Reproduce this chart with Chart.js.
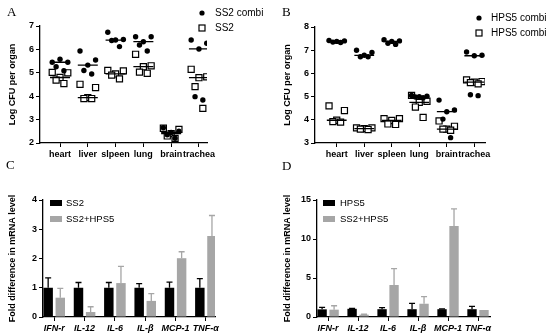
<!DOCTYPE html>
<html>
<head>
<meta charset="utf-8">
<script src="https://cdn.jsdelivr.net/npm/chart.js@4.4.1/dist/chart.umd.min.js"></script>
<style>
  body { margin: 0; background: #fff; width: 550px; height: 336px; position: relative; overflow: hidden; }
  canvas { position: absolute; }
  .tag { position: absolute; font: 13px 'Liberation Serif', 'Times New Roman', serif; color: #000; }
</style>
</head>
<body>
<canvas id="pa" width="275" height="168" style="left:0;top:0"></canvas>
<canvas id="pb" width="275" height="168" style="left:275px;top:0"></canvas>
<canvas id="pc" width="275" height="168" style="left:0;top:168px"></canvas>
<canvas id="pd" width="275" height="168" style="left:275px;top:168px"></canvas>
<div class="tag" style="left:7px;top:4px">A</div>
<div class="tag" style="left:282px;top:4px">B</div>
<div class="tag" style="left:6px;top:157px">C</div>
<div class="tag" style="left:282px;top:158px">D</div>
<script>
// ---- data ----
const organs = ['heart', 'liver', 'slpeen', 'lung', 'brain', 'trachea'];
const organsB = ['heart', 'liver', 'spleen', 'lung', 'brain', 'trachea'];
const genes = ['IFN-r', 'IL-12', 'IL-6', 'IL-β', 'MCP-1', 'TNF-α'];

// panel A, log CFU per organ, one row per organ
const ss2Combi = [
  [5.45, 5.45, 5.58, 5.26, 5.09],
  [5.93, 5.55, 5.33, 5.10, 4.95],
  [6.73, 6.42, 6.40, 6.38, 6.12],
  [6.54, 6.54, 6.33, 6.19, 5.93],
  [2.65, 2.50, 2.45, 2.35, 2.20],
  [6.40, 6.26, 6.02, 3.98, 3.84]
];
const ss2 = [
  [5.02, 5.00, 4.80, 4.69, 4.54],
  [4.51, 4.37, 3.94, 3.90, 3.90],
  [5.10, 5.08, 4.95, 4.90, 4.74],
  [5.79, 5.30, 5.26, 5.03, 4.98],
  [2.63, 2.58, 2.40, 2.30, 2.20],
  [5.15, 4.83, 4.79, 4.41, 3.48]
];

// panel B
const hps5Combi = [
  [7.42, 7.40, 7.38, 7.35, 7.33],
  [7.00, 6.90, 6.78, 6.72, 6.72],
  [7.45, 7.40, 7.38, 7.30, 7.25],
  [5.05, 5.02, 5.00, 4.98, 4.95],
  [4.85, 4.42, 4.35, 4.03, 3.23],
  [6.92, 6.78, 6.76, 5.08, 5.04]
];
const hps5 = [
  [4.60, 4.40, 3.98, 3.92, 3.90],
  [3.65, 3.65, 3.62, 3.60, 3.58],
  [4.05, 4.05, 3.97, 3.82, 3.80],
  [5.05, 4.80, 4.75, 4.55, 4.10],
  [3.95, 3.72, 3.60, 3.60, 3.55],
  [5.72, 5.65, 5.62, 5.60, 5.55]
];

// panel C, fold difference (mean and sd)
const cSS2 = [1, 1, 1, 1, 1, 1];
const cSS2Sd = [0.34, 0.18, 0.18, 0.14, 0.19, 0.31];
const cMix = [0.66, 0.17, 1.16, 0.55, 2.01, 2.77];
const cMixSd = [0.32, 0.18, 0.57, 0.25, 0.22, 0.70];

// panel D
const dHPS5 = [0.98, 1.05, 1.0, 1.0, 1.0, 1.0];
const dHPS5Sd = [0.26, 0.05, 0.2, 0.75, 0.05, 0.37];
const dMix = [0.94, 0.3, 4.1, 1.7, 11.67, 0.9];
const dMixSd = [0.5, 0.05, 2.1, 0.9, 2.18, 0];

// ---- helpers ----
const FONT = "'Liberation Sans', Arial, sans-serif";
const GREY = '#a6a6a6';
Chart.defaults.font.family = FONT;
Chart.defaults.color = '#000';

const JITTER = [-0.28, 0.28, 0, -0.14, 0.14];

function toPoints(groups) {
  const pts = [];
  groups.forEach((vals, i) => vals.forEach((v, j) => pts.push({ x: i + JITTER[j % JITTER.length], y: v })));
  return pts;
}
function median(vals) {
  const s = [...vals].sort((a, b) => a - b);
  const m = s.length >> 1;
  return s.length % 2 ? s[m] : (s[m - 1] + s[m]) / 2;
}
function medianSegments(groups) {
  const pts = [];
  groups.forEach((vals, i) => {
    const m = median(vals);
    pts.push({ x: i - 0.36, y: m }, { x: i + 0.36, y: m }, { x: i, y: null });
  });
  return pts;
}

function axisX(cats, min, max, height, italic) {
  return {
    type: 'linear', min, max, offset: false,
    afterBuildTicks: s => { s.ticks = cats.map((c, i) => ({ value: i })); },
    ticks: {
      callback: v => cats[v], color: '#000', padding: 2, maxRotation: 0, autoSkip: false,
      font: { family: FONT, size: 9, weight: 'bold', style: italic ? 'italic' : 'normal' }
    },
    grid: { drawOnChartArea: false, drawTicks: true, tickLength: 4, color: '#000', lineWidth: 1, offset: false },
    border: { color: '#000', width: 1.3 },
    afterFit: s => { s.height = height; }
  };
}
function axisY(min, max, step, title, width) {
  return {
    min, max,
    ticks: { stepSize: step, color: '#000', padding: 2, font: { family: FONT, size: 9, weight: 'bold' } },
    grid: { drawOnChartArea: false, drawTicks: true, tickLength: 4, color: '#000', lineWidth: 1 },
    border: { color: '#000', width: 1.3 },
    title: { display: true, text: title, color: '#000', font: { family: FONT, size: 9, weight: 'bold' }, padding: { top: 3, bottom: 0 } },
    afterFit: s => { s.width = width; }
  };
}

// small legend drawn at fixed spots
const miniLegend = {
  id: 'miniLegend',
  afterDraw(chart, args, opts) {
    const ctx = chart.ctx;
    (opts.items || []).forEach(it => {
      const ds = chart.data.datasets[it.ds];
      ctx.save();
      if (it.kind === 'dot') {
        ctx.fillStyle = '#000';
        ctx.beginPath(); ctx.arc(it.x, it.y, 2.6, 0, Math.PI * 2); ctx.fill();
      } else if (it.kind === 'square') {
        ctx.strokeStyle = '#000'; ctx.lineWidth = 1.2;
        ctx.strokeRect(it.x - 3, it.y - 3, 6, 6);
      } else {
        ctx.fillStyle = ds.backgroundColor;
        ctx.fillRect(it.x, it.y - 3, 12, 6);
      }
      ctx.fillStyle = '#000';
      ctx.font = (opts.size || 10) + 'px ' + FONT;
      ctx.textBaseline = 'middle';
      ctx.fillText(ds.label, it.tx, it.y);
      ctx.restore();
    });
  }
};

const errorBars = {
  id: 'errorBars',
  afterDatasetsDraw(chart) {
    const ctx = chart.ctx, y = chart.scales.y;
    chart.data.datasets.forEach((ds, di) => {
      if (!ds.sd) return;
      chart.getDatasetMeta(di).data.forEach((bar, i) => {
        const sd = ds.sd[i];
        if (!sd) return;
        const top = y.getPixelForValue(ds.data[i].y + sd);
        ctx.save();
        ctx.strokeStyle = ds.backgroundColor;
        ctx.lineWidth = 1.3;
        ctx.beginPath();
        ctx.moveTo(bar.x, bar.y); ctx.lineTo(bar.x, top);
        ctx.moveTo(bar.x - 3, top); ctx.lineTo(bar.x + 3, top);
        ctx.stroke();
        ctx.restore();
      });
    });
  }
};

function scatterPanel(id, cats, dots, squares, labels, x, y, pad, legend) {
  new Chart(document.getElementById(id), {
    type: 'scatter',
    data: {
      datasets: [
        { type: 'line', label: 'm1', data: medianSegments(dots), borderColor: '#000', borderWidth: 1.3, pointRadius: 0, spanGaps: false, order: 0 },
        { type: 'line', label: 'm2', data: medianSegments(squares), borderColor: '#000', borderWidth: 1.3, pointRadius: 0, spanGaps: false, order: 0 },
        { label: labels[0], data: toPoints(dots), pointStyle: 'circle', pointRadius: 2.7, backgroundColor: '#000', borderColor: '#000', borderWidth: 0, order: 1 },
        { label: labels[1], data: toPoints(squares), pointStyle: 'rect', pointRadius: 4.3, backgroundColor: '#fff', borderColor: '#000', borderWidth: 1.2, order: 2 }
      ]
    },
    options: {
      responsive: false, animation: false, devicePixelRatio: 1,
      layout: { padding: pad },
      scales: { x, y },
      plugins: {
        legend: { display: false }, tooltip: { enabled: false },
        miniLegend: { items: legend, size: 10 }
      }
    },
    plugins: [miniLegend]
  });
}

function barPanel(id, series, x, y, legend) {
  new Chart(document.getElementById(id), {
    type: 'bar',
    data: {
      datasets: series.map(s => ({
        label: s.label,
        data: s.mean.map((v, i) => ({ x: i, y: v })),
        sd: s.sd,
        backgroundColor: s.color,
        categoryPercentage: 0.8, barPercentage: 0.78
      }))
    },
    options: {
      responsive: false, animation: false, devicePixelRatio: 1,
      layout: { padding: { left: 4, top: 32, right: 60, bottom: 0 } },
      scales: { x, y },
      plugins: {
        legend: { display: false }, tooltip: { enabled: false },
        miniLegend: { items: legend, size: 9.5 }
      }
    },
    plugins: [errorBars, miniLegend]
  });
}

// ---- A ----
scatterPanel('pa', organs, ss2Combi, ss2, ['SS2 combi', 'SS2'],
  axisX(organs, -0.72, 5.29, 25, false),
  axisY(2, 7, 1, 'Log CFU per organ', 36),
  { left: 4, top: 26, right: 68, bottom: 0 },
  [{ ds: 2, kind: 'dot', x: 202, y: 13, tx: 215 }, { ds: 3, kind: 'square', x: 202, y: 28, tx: 215 }]);

// ---- B ----
scatterPanel('pb', organsB, hps5Combi, hps5, ['HPS5 combi', 'HPS5 combi'],
  axisX(organsB, -0.79, 5.39, 25, false),
  axisY(3, 8, 1, 'Log CFU per organ', 36),
  { left: 4, top: 27, right: 65, bottom: 0 },
  [{ ds: 2, kind: 'dot', x: 204, y: 18, tx: 216 }, { ds: 3, kind: 'square', x: 204, y: 33, tx: 216 }]);

// ---- C ----
barPanel('pc', [
  { label: 'SS2', mean: cSS2, sd: cSS2Sd, color: '#000' },
  { label: 'SS2+HPS5', mean: cMix, sd: cMixSd, color: GREY }
], axisX(genes, -0.37, 5.3, 19, true),
  axisY(0, 4, 1, 'Fold difference in mRNA level', 39),
  [{ ds: 0, kind: 'box', x: 50, y: 35, tx: 66 }, { ds: 1, kind: 'box', x: 50, y: 51, tx: 66 }]);

// ---- D ----
barPanel('pd', [
  { label: 'HPS5', mean: dHPS5, sd: dHPS5Sd, color: '#000' },
  { label: 'SS2+HPS5', mean: dMix, sd: dMixSd, color: GREY }
], axisX(genes, -0.37, 5.4, 19, true),
  axisY(0, 15, 5, 'Fold difference in mRNA level', 38),
  [{ ds: 0, kind: 'box', x: 48, y: 35, tx: 65 }, { ds: 1, kind: 'box', x: 48, y: 51, tx: 65 }]);
</script>
</body>
</html>
